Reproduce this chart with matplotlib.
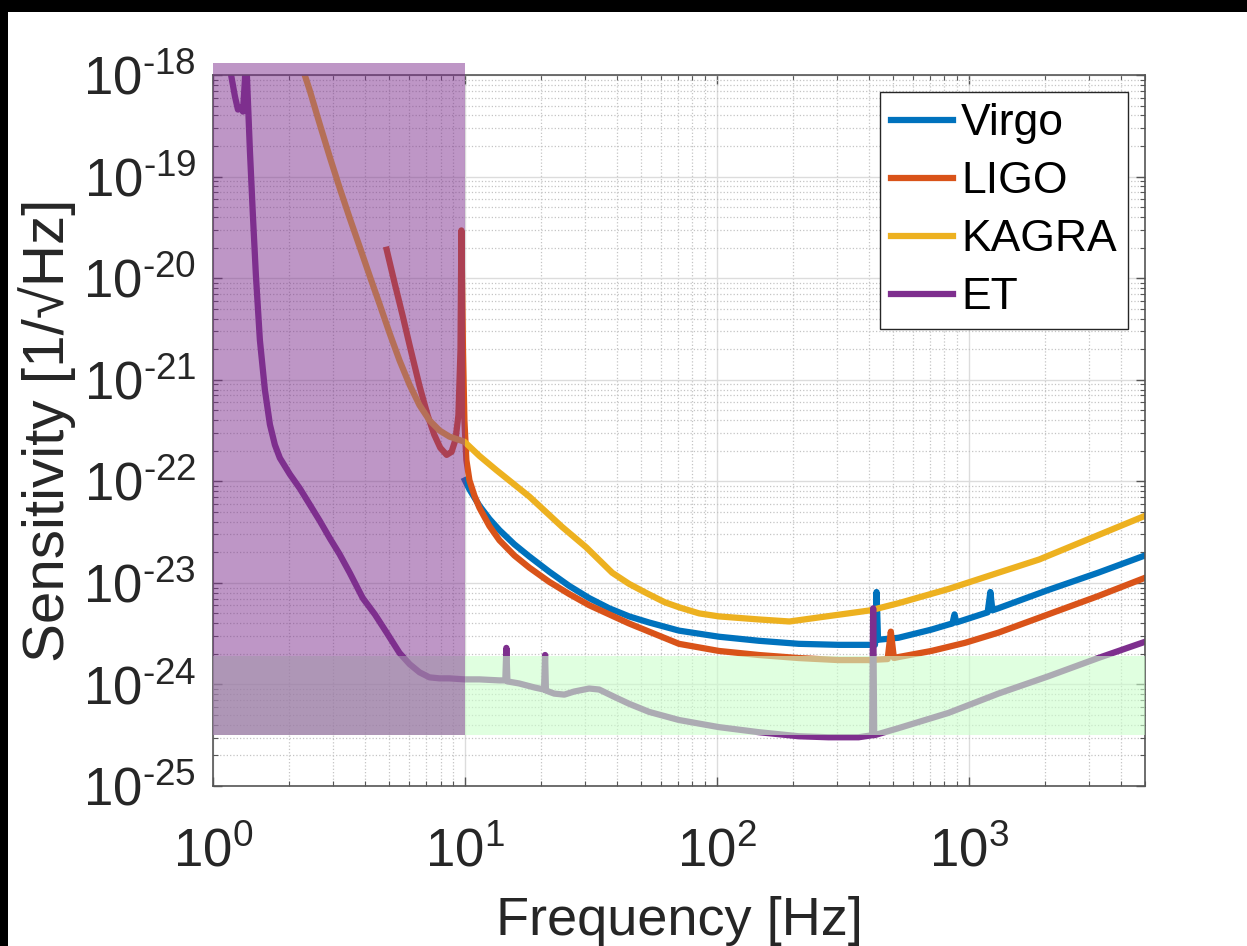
import numpy as np
import matplotlib.pyplot as plt
from matplotlib.patches import Rectangle
from matplotlib.ticker import FixedLocator, FuncFormatter, NullFormatter

plt.rcParams['font.family'] = ['Liberation Sans', 'DejaVu Sans']
plt.rcParams['mathtext.fontset'] = 'custom'
plt.rcParams['mathtext.rm'] = 'Liberation Sans'

############ data (sensitivity stored as log10) ############

virgo_f = [10, 10.42, 11.41, 12.50, 13.70, 15.70, 18.01, 21.61, 25.94, 31.13, 37.36, 44.83,
           53.80, 70.71, 101.8, 146.7, 211.3, 304.2, 399.9, 424, 430, 436, 526, 710, 830,
           860, 877, 891, 1187, 1217, 1240, 1309, 2065, 3258, 5000]
virgo_exp = [-21.99, -22.08, -22.24, -22.37, -22.48, -22.62, -22.74, -22.89, -23.03, -23.15,
             -23.25, -23.33, -23.39, -23.47, -23.53, -23.57, -23.60, -23.61, -23.61, -23.61,
             -23.09, -23.56, -23.54, -23.46, -23.41, -23.40, -23.31, -23.39, -23.29, -23.09,
             -23.27, -23.25, -23.07, -22.90, -22.73]

ligo_f = [4.89, 5.26, 5.66, 6.03, 6.60, 7.11, 7.55, 7.98, 8.46, 8.85, 9.17, 9.42, 9.60, 9.68,
          9.82, 9.95, 10.13, 10.42, 10.90, 11.41, 12.50, 13.70, 15.70, 18.01, 21.61, 25.94,
          31.13, 37.36, 44.83, 53.80, 70.71, 101.8, 146.7, 211.3, 304.2, 399.9, 476, 490,
          504, 526, 710, 966, 1309, 2065, 3258, 5000]
ligo_exp = [-19.72, -20.05, -20.37, -20.66, -21.06, -21.35, -21.54, -21.67, -21.74, -21.71,
            -21.59, -21.35, -20.71, -19.53, -20.71, -21.40, -21.79, -21.99, -22.14, -22.26,
            -22.44, -22.58, -22.73, -22.85, -22.99, -23.11, -23.22, -23.31, -23.40, -23.48,
            -23.60, -23.67, -23.71, -23.74, -23.76, -23.76, -23.75, -23.48, -23.74, -23.73,
            -23.67, -23.59, -23.49, -23.31, -23.13, -22.95]

kagra_f = [2.21, 2.42, 2.65, 2.91, 3.18, 3.49, 3.82, 4.19, 4.59, 5.02, 5.50, 6.03, 6.60, 7.23,
           7.93, 8.68, 9.95, 11.41, 13.33, 18.01, 24.33, 30.3, 38.4, 44.83, 52.5, 62.0, 70.71,
           84.9, 101.8, 146.7, 194, 254, 333, 407, 526, 830, 1309, 1900, 2979, 5000]
kagra_exp = [-17.85, -18.15, -18.48, -18.81, -19.11, -19.41, -19.69, -19.98, -20.26, -20.54,
             -20.81, -21.05, -21.25, -21.40, -21.50, -21.56, -21.61, -21.75, -21.89, -22.15,
             -22.45, -22.65, -22.90, -23.01, -23.10, -23.19, -23.24, -23.30, -23.33, -23.36,
             -23.38, -23.34, -23.30, -23.27, -23.20, -23.06, -22.90, -22.77, -22.57, -22.34]

et_f = [1.147, 1.18, 1.222, 1.256, 1.285, 1.315, 1.339, 1.351, 1.363, 1.401, 1.44, 1.48, 1.535,
        1.607, 1.682, 1.760, 1.842, 2.018, 2.211, 2.423, 2.654, 2.907, 3.184, 3.488, 3.93,
        4.39, 4.89, 5.50, 6.03, 6.60, 7.23, 7.93, 8.68, 9.95, 11.41, 13.70, 14.46, 14.6,
        14.74, 16.4, 18.9, 20.6, 20.8, 20.96, 22.6, 24.8, 27.1, 31.1, 34.1, 39.0, 44.8, 53.8,
        70.7, 101.8, 146.7, 211.3, 277, 365, 413, 417, 421, 526, 830, 1309, 2065, 3258, 5000]
et_exp = [-17.80, -18.00, -18.21, -18.34, -18.32, -18.36, -18.05, -17.75, -18.00, -18.74,
          -19.38, -19.97, -20.61, -21.10, -21.44, -21.64, -21.77, -21.93, -22.07, -22.23,
          -22.39, -22.56, -22.72, -22.90, -23.15, -23.31, -23.49, -23.69, -23.80, -23.88,
          -23.93, -23.94, -23.94, -23.95, -23.95, -23.96, -23.96, -23.64, -23.97, -23.99,
          -24.03, -24.05, -23.71, -24.06, -24.09, -24.10, -24.07, -24.04, -24.05, -24.12,
          -24.19, -24.27, -24.35, -24.42, -24.47, -24.51, -24.52, -24.52, -24.50, -23.25,
          -24.50, -24.43, -24.28, -24.09, -23.92, -23.74, -23.58]

# shaded bands
band_low = 3.16e-25
band_high = 1.9e-24
purple_top = 1.3e-18
purple_fmax = 10

x_decades = [1, 10, 100, 1000]
y_decades = [1e-25, 1e-24, 1e-23, 1e-22, 1e-21, 1e-20, 1e-19, 1e-18]

############ figure ############

fig = plt.figure(figsize=(12.47, 9.46), dpi=100)
ax = fig.add_axes([0.1708, 0.1691, 0.7474, 0.7516])

lw = 4.5
ax.loglog(virgo_f, 10.0 ** np.array(virgo_exp), color='#0072BD', lw=lw, label='Virgo')
ax.loglog(ligo_f, 10.0 ** np.array(ligo_exp), color='#D95319', lw=lw, label='LIGO')
ax.loglog(kagra_f, 10.0 ** np.array(kagra_exp), color='#EDB120', lw=lw, label='KAGRA')
ax.loglog(et_f, 10.0 ** np.array(et_exp), color='#7E2F8E', lw=lw, label='ET')

ax.set_xlim(1, 5000)
ax.set_ylim(1e-25, 1e-18)

ax.add_patch(Rectangle((1, band_low), 5000 - 1, band_high - band_low,
                       facecolor=(0.8, 1.0, 0.8), alpha=0.6, lw=0, zorder=3))
ax.add_patch(Rectangle((1, band_low), purple_fmax - 1, purple_top - band_low,
                       facecolor='#7E2F8E', alpha=0.5, lw=0, zorder=4, clip_on=False))


def fmt_pow(v, pos):
    e = int(round(np.log10(v)))
    if e < 0:
        return r'$\mathregular{10^{\text{-}%d}}$' % -e
    return r'$\mathregular{10^{%d}}$' % e


x_minor = [m * d for d in x_decades for m in range(2, 10) if m * d <= 5000]
y_minor = [m * d for d in y_decades[:-1] for m in range(2, 10)]
ax.xaxis.set_major_locator(FixedLocator(x_decades))
ax.yaxis.set_major_locator(FixedLocator(y_decades))
ax.xaxis.set_minor_locator(FixedLocator(x_minor))
ax.yaxis.set_minor_locator(FixedLocator(y_minor))
ax.xaxis.set_major_formatter(FuncFormatter(fmt_pow))
ax.yaxis.set_major_formatter(FuncFormatter(fmt_pow))
ax.xaxis.set_minor_formatter(NullFormatter())
ax.yaxis.set_minor_formatter(NullFormatter())

ax.grid(True, which='major', color='#dcdcdc', lw=1, ls='-')
ax.grid(True, which='minor', color='#c4c4c4', lw=0.9, ls=':')

ax.tick_params(which='both', direction='in', top=True, right=True, color='#555555',
               labelcolor='#262626', labelsize=38)
ax.tick_params(which='major', length=6.5, width=1)
ax.tick_params(which='minor', length=3.5, width=0.8)
ax.tick_params(axis='x', pad=30)
ax.tick_params(axis='y', pad=12)
for s in ax.spines.values():
    s.set_color('#555555')
    s.set_linewidth(1.2)

ax.set_xlabel('Frequency [Hz]', fontsize=39, color='#262626', labelpad=13)
ax.set_ylabel('Sensitivity [1/\u221aHz]', fontsize=42, color='#262626')
ax.yaxis.set_label_coords(-0.147, 0.5)

leg = ax.legend(loc='upper right', fontsize=32, fancybox=False, framealpha=1,
                edgecolor='#262626', borderaxespad=0.39, borderpad=0.25,
                labelspacing=0.38, handlelength=1.4, handletextpad=0.18)
leg.get_frame().set_linewidth(1)
leg.set_zorder(10)

# black border of the screenshot
fig.add_artist(Rectangle((0, 1 - 12 / 946), 1, 12 / 946, transform=fig.transFigure,
                         facecolor='black', lw=0))
fig.add_artist(Rectangle((0, 0), 8 / 1247, 1, transform=fig.transFigure,
                         facecolor='black', lw=0))

fig.savefig('out.png', dpi=100)
